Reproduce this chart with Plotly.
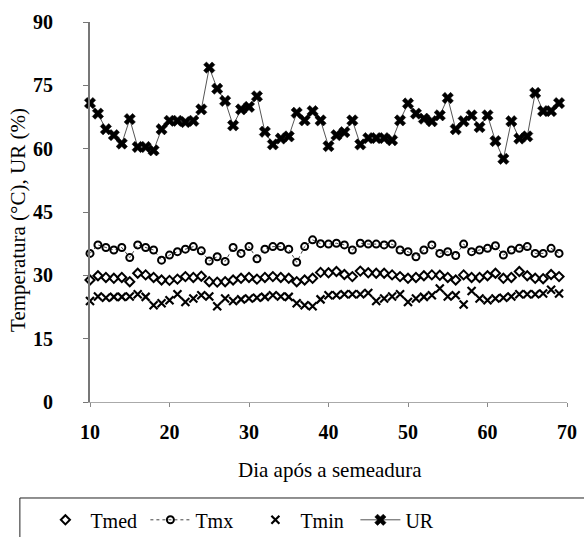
import plotly.graph_objects as go

days = list(range(10, 70))

t_med = [28.9, 29.9, 29.5, 29.3, 29.5, 28.5, 30.5, 30.1, 29.5, 28.9,
         28.8, 29.1, 29.7, 29.5, 29.8, 28.5, 28.4, 28.5, 28.9, 29.3,
         29.5, 29.1, 29.5, 29.7, 29.5, 29.3, 28.5, 28.9, 29.3, 30.7,
         30.6, 30.9, 30.2, 29.7, 31.0, 30.6, 30.5, 30.5, 30.1, 29.7,
         29.3, 29.5, 29.9, 30.1, 30.0, 29.5, 28.9, 30.1, 29.5, 29.5,
         29.9, 30.5, 29.3, 29.5, 30.9, 29.9, 29.3, 29.2, 30.2, 29.7]

t_max = [35.2, 37.2, 36.6, 36.0, 36.6, 34.2, 37.2, 36.6, 36.0, 33.6,
         34.8, 35.6, 36.2, 36.8, 35.8, 33.4, 34.4, 33.3, 36.6, 35.2,
         36.8, 33.9, 36.2, 36.8, 36.8, 36.2, 33.1, 36.8, 38.4, 37.5,
         37.4, 37.6, 37.2, 36.0, 37.6, 37.4, 37.4, 37.2, 37.4, 36.0,
         35.6, 34.4, 36.0, 37.2, 35.2, 35.6, 34.7, 37.4, 35.6, 36.0,
         36.4, 37.0, 34.8, 36.0, 36.4, 36.8, 35.2, 35.2, 36.4, 35.2]

t_min = [23.9, 25.0, 24.7, 24.9, 24.9, 25.0, 25.5, 24.9, 22.9, 23.4,
         24.1, 25.5, 23.7, 24.5, 25.3, 25.0, 22.7, 24.5, 23.9, 24.3,
         24.5, 24.7, 24.9, 25.3, 25.0, 24.9, 23.4, 22.9, 22.7, 24.3,
         25.3, 25.3, 25.5, 25.5, 25.5, 25.8, 23.9, 24.5, 25.0, 25.5,
         23.7, 24.5, 24.9, 25.3, 26.9, 25.0, 25.3, 23.1, 26.3, 24.5,
         24.1, 24.5, 24.7, 25.0, 25.5, 25.5, 25.5, 25.7, 26.6, 25.7]

ur = [70.8, 68.3, 64.6, 63.2, 61.2, 67.0, 60.4, 60.4, 59.6, 64.6,
      66.6, 66.6, 66.3, 66.6, 69.3, 79.2, 74.2, 71.3, 65.5, 69.3,
      69.9, 72.4, 64.0, 61.0, 62.4, 62.9, 68.5, 66.7, 68.9, 66.7,
      60.6, 63.2, 63.9, 66.7, 61.0, 62.5, 62.5, 62.5, 62.0, 66.7,
      70.7, 68.3, 67.1, 66.5, 67.9, 72.0, 64.6, 66.5, 67.9, 65.1,
      67.9, 61.8, 57.6, 66.5, 62.4, 62.9, 73.2, 68.9, 68.9, 70.8]

y_ticks = [0, 15, 30, 45, 60, 75, 90]
x_ticks = [10, 20, 30, 40, 50, 60, 70]

SERIF = "'Liberation Serif', 'Times New Roman', Times, serif"

fig = go.Figure()
fig.add_trace(go.Scatter(
    x=days, y=t_med, name="Tmed", mode="markers",
    marker=dict(symbol="diamond-open", size=7, color="black", line=dict(width=2, color="black")),
    cliponaxis=False))
fig.add_trace(go.Scatter(
    x=days, y=t_max, name="Tmx", mode="lines+markers",
    line=dict(color="#444", width=1, dash="3px,3px"),
    marker=dict(symbol="circle-open", size=7, color="black", line=dict(width=2, color="black")),
    cliponaxis=False))
fig.add_trace(go.Scatter(
    x=days, y=t_min, name="Tmin", mode="markers",
    marker=dict(symbol="x-thin-open", size=8, color="black", line=dict(width=2.2, color="black")),
    cliponaxis=False))
fig.add_trace(go.Scatter(
    x=days, y=ur, name="UR", mode="lines+markers",
    line=dict(color="#555", width=1),
    marker=dict(symbol="x", size=10, color="black", line=dict(width=0.5, color="black")),
    cliponaxis=False))

fig.update_layout(
    width=584, height=537,
    margin=dict(l=90, r=17, t=22, b=135, autoexpand=False),
    paper_bgcolor="white", plot_bgcolor="white",
    font=dict(family=SERIF, color="black", size=18),
    showlegend=True,
    legend=dict(orientation="h", x=-0.104, xanchor="left", y=-0.31, yanchor="middle",
                font=dict(family=SERIF, size=20, color="black"),
                itemwidth=40, entrywidth=50, entrywidthmode="pixels",
                bgcolor="rgba(0,0,0,0)", borderwidth=0, tracegroupgap=0),
    shapes=[dict(type="rect", xref="paper", yref="paper",
                 x0=-0.147, x1=1.08, y0=-0.2526, y1=-0.40,
                 line=dict(color="#222", width=1), fillcolor="rgba(0,0,0,0)", layer="below")],
    annotations=[
        dict(text="Dia após a semeadura", xref="paper", yref="paper",
             x=0.503, y=-0.179, xanchor="center", yanchor="middle", showarrow=False,
             font=dict(family=SERIF, size=21, color="black")),
        dict(text="Temperatura (°C), UR (%)", xref="paper", yref="paper",
             x=-0.151, y=0.479, xanchor="center", yanchor="middle", showarrow=False,
             textangle=-90, font=dict(family=SERIF, size=21, color="black")),
    ],
)

fig.update_xaxes(
    range=[10, 70], tickvals=x_ticks, ticktext=[str(v) for v in x_ticks],
    showgrid=False, zeroline=False, showline=True, linecolor="#aaa", linewidth=1,
    ticks="outside", ticklen=4, tickcolor="#888",
    ticklabelstandoff=8,
    tickfont=dict(family=SERIF, size=20, color="black", weight="bold"),
)
fig.update_yaxes(
    range=[0, 90], tickvals=y_ticks, ticktext=[str(v) for v in y_ticks],
    showgrid=False, zeroline=False, showline=True, linecolor="#777", linewidth=2,
    ticks="outside", ticklen=5, tickcolor="#777",
    ticklabelstandoff=26,
    tickfont=dict(family=SERIF, size=20, color="black", weight="bold"),
)

fig.write_html("out.html")
